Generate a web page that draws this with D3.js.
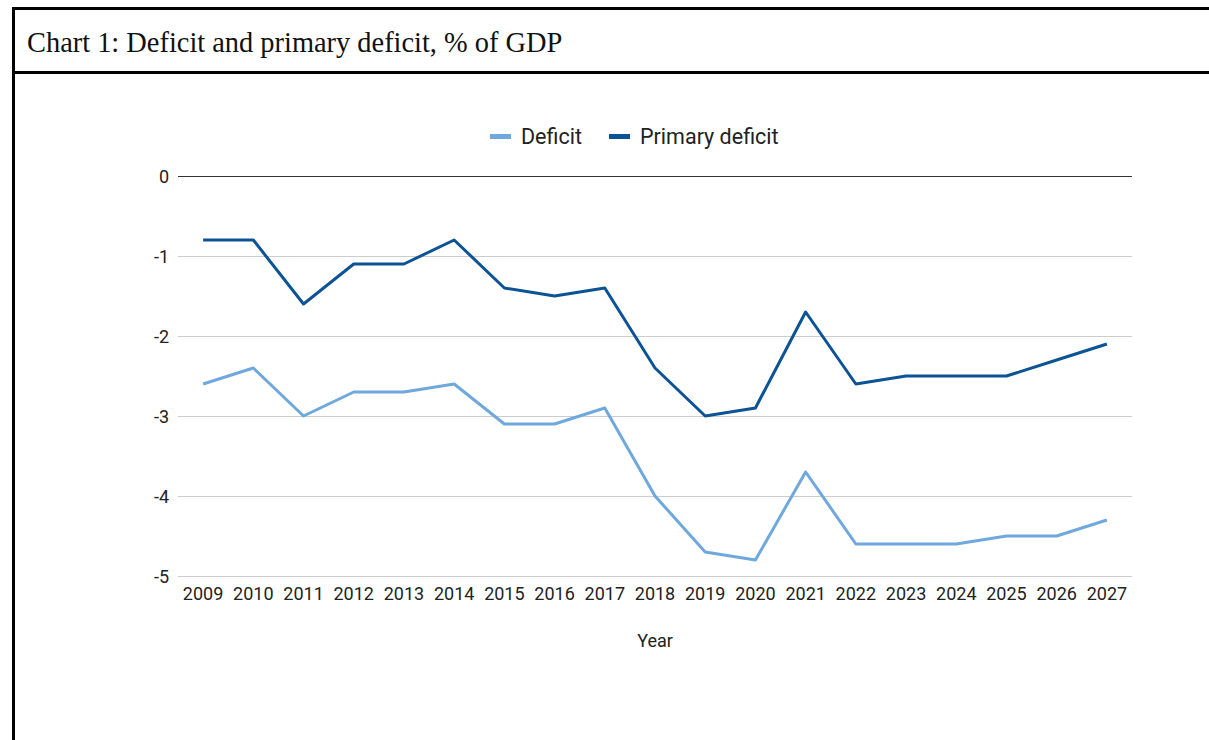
<!DOCTYPE html>
<html>
<head>
<meta charset="utf-8">
<script src="https://cdn.jsdelivr.net/npm/d3@7"></script>
<style>
  html, body { margin: 0; padding: 0; background: #fff; overflow: hidden; }
  svg { display: block; }
</style>
</head>
<body>
<svg id="chart" width="1209" height="740"></svg>
<script>
// Fiscal balance series, % of GDP
const years = ["2009","2010","2011","2012","2013","2014","2015","2016","2017","2018",
               "2019","2020","2021","2022","2023","2024","2025","2026","2027"];
const deficit = [-2.6,-2.4,-3.0,-2.7,-2.7,-2.6,-3.1,-3.1,-2.9,-4.0,
                 -4.7,-4.8,-3.7,-4.6,-4.6,-4.6,-4.5,-4.5,-4.3];
const primaryDeficit = [-0.8,-0.8,-1.6,-1.1,-1.1,-0.8,-1.4,-1.5,-1.4,-2.4,
                        -3.0,-2.9,-1.7,-2.6,-2.5,-2.5,-2.5,-2.3,-2.1];
const yTicks = [0,-1,-2,-3,-4,-5];
const seriesNames = ["Deficit","Primary deficit"];
const seriesColors = ["#6fa8dc","#0b5394"];

const svg = d3.select("#chart");

// Outer frame and title band
svg.append("rect").attr("x", 13.5).attr("y", 8.5).attr("width", 1300).attr("height", 900)
  .attr("fill", "none").attr("stroke", "#000").attr("stroke-width", 3);
svg.append("line").attr("x1", 13).attr("x2", 1300).attr("y1", 72.5).attr("y2", 72.5)
  .attr("stroke", "#000").attr("stroke-width", 3);
svg.append("text").attr("x", 27).attr("y", 52)
  .attr("font-family", "'Liberation Serif', 'DejaVu Serif', serif")
  .attr("font-size", 28.4).attr("fill", "#111")
  .text("Chart 1: Deficit and primary deficit, % of GDP");

const x = d3.scaleBand().domain(years).range([178, 1132]);
const y = d3.scaleLinear().domain([-5, 0]).range([576, 176]);
const font = "Roboto, 'Noto Sans', sans-serif";

// Horizontal gridlines
const grid = svg.append("g");
grid.selectAll("line").data(yTicks).join("line")
  .attr("x1", 178).attr("x2", 1132)
  .attr("y1", d => Math.round(y(d)) + 0.5).attr("y2", d => Math.round(y(d)) + 0.5)
  .attr("stroke", d => d === 0 ? "#333" : "#ccc").attr("stroke-width", 1);

// Y axis labels (plain hyphen for negatives)
const yAxis = d3.axisLeft(y).tickValues(yTicks).tickSize(0).tickPadding(0)
  .tickFormat(d => String(d));
const gy = svg.append("g").attr("transform", "translate(169,0)").call(yAxis);
gy.select(".domain").remove();
gy.selectAll("text").attr("font-family", font).attr("font-size", 18).attr("fill", "#222")
  .attr("dy", "0.35em");

// X axis labels
const xAxis = d3.axisBottom(x).tickSize(0).tickPadding(0);
const gx = svg.append("g").attr("transform", "translate(0,586)").call(xAxis);
gx.select(".domain").remove();
gx.selectAll("text").attr("font-family", font).attr("font-size", 18).attr("fill", "#222")
  .attr("dy", "0.75em");

svg.append("text").attr("x", 655).attr("y", 647).attr("text-anchor", "middle")
  .attr("font-family", font).attr("font-size", 18).attr("fill", "#222").text("Year");

// Lines
const line = d3.line().x((d, i) => x(years[i]) + x.bandwidth() / 2).y(d => y(d));
[deficit, primaryDeficit].forEach((vals, k) => {
  svg.append("path").datum(vals).attr("d", line)
    .attr("fill", "none").attr("stroke", seriesColors[k]).attr("stroke-width", 3)
    .attr("stroke-linejoin", "round");
});

// Legend
const legendX = [490, 609];
seriesNames.forEach((name, k) => {
  svg.append("rect").attr("x", legendX[k]).attr("y", 134).attr("width", 21).attr("height", 5)
    .attr("fill", seriesColors[k]);
  svg.append("text").attr("x", legendX[k] + 31).attr("y", 136).attr("dy", "0.35em")
    .attr("font-family", font).attr("font-size", 21.5).attr("fill", "#222").text(name);
});
</script>
</body>
</html>
